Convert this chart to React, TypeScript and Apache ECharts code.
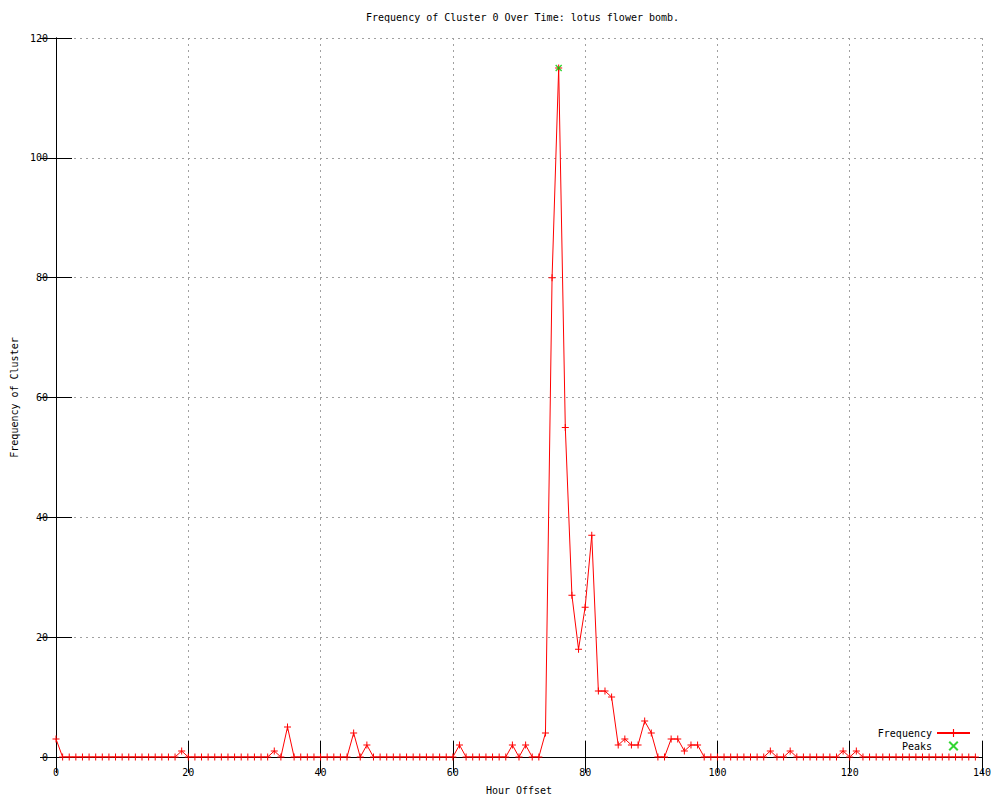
import React, { useEffect, useRef } from "react";
import * as echarts from "echarts";

const titleText = "Frequency of Cluster 0 Over Time: lotus flower bomb.";
const xAxisName = "Hour Offset";
const yAxisName = "Frequency of Cluster";

// Frequency per hour offset, starting at hour 0
const frequency = [
  3, 0, 0, 0, 0, 0, 0, 0, 0, 0,
  0, 0, 0, 0, 0, 0, 0, 0, 0, 1,
  0, 0, 0, 0, 0, 0, 0, 0, 0, 0,
  0, 0, 0, 1, 0, 5, 0, 0, 0, 0,
  0, 0, 0, 0, 0, 4, 0, 2, 0, 0,
  0, 0, 0, 0, 0, 0, 0, 0, 0, 0,
  0, 2, 0, 0, 0, 0, 0, 0, 0, 2,
  0, 2, 0, 0, 4, 80, 115, 55, 27, 18,
  25, 37, 11, 11, 10, 2, 3, 2, 2, 6,
  4, 0, 0, 3, 3, 1, 2, 2, 0, 0,
  0, 0, 0, 0, 0, 0, 0, 0, 1, 0,
  0, 1, 0, 0, 0, 0, 0, 0, 0, 1,
  0, 1, 0, 0, 0, 0, 0, 0, 0, 0,
  0, 0, 0, 0, 0, 0, 0, 0, 0, 0,
];

const peakHours = [76];
const peakValues = [115];

const xTicks = { min: 0, max: 140, interval: 20 };
const yTicks = { min: 0, max: 120, interval: 20 };

const FONT = "'DejaVu Sans Mono', 'Liberation Mono', monospace";
const PLUS = "path://M3,0H4V3H7V4H4V7H3V4H0V3H3Z";
const CROSS = "path://M0,1L1,0L3.5,2.5L6,0L7,1L4.5,3.5L7,6L6,7L3.5,4.5L1,7L0,6L2.5,3.5Z";

export default function App() {
  const ref = useRef<HTMLDivElement>(null);

  useEffect(() => {
    if (!ref.current) return;
    document.body.style.margin = "0";
    document.documentElement.style.overflow = "hidden";
    document.body.style.overflow = "hidden";
    const chart = echarts.init(ref.current, null, { renderer: "svg", width: 1000, height: 800 });
    const textStyle = { fontFamily: FONT, fontSize: 10, color: "#000" };
    const tick = { show: true, inside: true, length: 16, lineStyle: { color: "#000", width: 1 } };
    const axisLine = { show: true, lineStyle: { color: "#000", width: 1 } };
    const grid = { type: [2, 4], color: "#a0a0a0", width: 1 };

    chart.setOption({
      animation: false,
      backgroundColor: "#fff",
      textStyle: { fontFamily: FONT },
      title: {
        text: titleText,
        left: 361,
        top: 7,
        textStyle: { ...textStyle, fontWeight: "normal" },
      },
      grid: { left: 56, width: 926, top: 38, height: 722, containLabel: false },
      legend: {
        orient: "vertical",
        right: 24,
        top: 723,
        align: "right",
        itemWidth: 33,
        itemHeight: 10,
        itemGap: 3,
        textStyle: { ...textStyle },
        data: [
          { name: "Frequency" },
          { name: "Peaks", icon: CROSS, itemStyle: { color: "#00cc00" } },
        ],
      },
      xAxis: [
        {
          type: "value",
          ...xTicks,
          position: "bottom",
          name: xAxisName,
          nameLocation: "middle",
          nameGap: 28,
          nameTextStyle: { ...textStyle },
          axisLine,
          axisTick: tick,
          axisLabel: { ...textStyle, margin: 10 },
          splitLine: { show: true, lineStyle: grid },
        },
        {
          type: "value",
          ...xTicks,
          position: "top",
          axisLine,
          axisTick: tick,
          axisLabel: { show: false },
          splitLine: { show: false },
        },
      ],
      yAxis: [
        {
          type: "value",
          ...yTicks,
          position: "left",
          name: yAxisName,
          nameLocation: "middle",
          nameGap: 36,
          nameRotate: 90,
          nameTextStyle: { ...textStyle },
          axisLine,
          axisTick: tick,
          axisLabel: { ...textStyle, margin: 8 },
          splitLine: { show: true, lineStyle: grid },
        },
        {
          type: "value",
          ...yTicks,
          position: "right",
          axisLine,
          axisTick: tick,
          axisLabel: { show: false },
          splitLine: { show: false },
        },
      ],
      series: [
        {
          name: "Frequency",
          type: "line",
          xAxisIndex: 0,
          yAxisIndex: 0,
          data: frequency.map((v, i) => [i, v]),
          symbol: PLUS,
          symbolSize: 7,
          showAllSymbol: true,
          color: "#ff0000",
          itemStyle: { color: "#ff0000" },
          lineStyle: { color: "#ff0000", width: 1 },
          z: 3,
        },
        {
          name: "Peaks",
          type: "scatter",
          xAxisIndex: 0,
          yAxisIndex: 0,
          data: peakHours.map((h, i) => [h, peakValues[i]]),
          symbol: CROSS,
          symbolSize: 7,
          symbolKeepAspect: true,
          color: "#00cc00",
          itemStyle: { color: "#00cc00" },
          z: 4,
        },
      ],
    });
    return () => chart.dispose();
  }, []);

  return (
    <div
      ref={ref}
      style={{ position: "fixed", left: 0, top: 0, width: 1000, height: 800, background: "#fff" }}
    />
  );
}
